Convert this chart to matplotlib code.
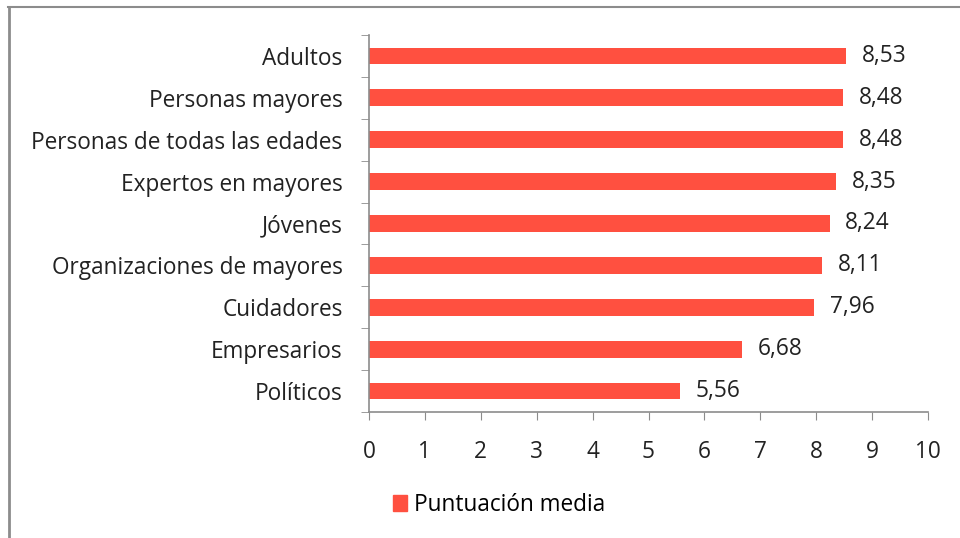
import matplotlib.pyplot as plt
from matplotlib.lines import Line2D
from matplotlib.patches import Patch

categorias = ['Adultos', 'Personas mayores', 'Personas de todas las edades',
              'Expertos en mayores', 'Jóvenes', 'Organizaciones de mayores',
              'Cuidadores', 'Empresarios', 'Políticos']
puntuacion = [8.53, 8.48, 8.48, 8.35, 8.24, 8.11, 7.96, 6.68, 5.56]
serie = 'Puntuación media'

color = '#FF5040'
gris = '#8c8c8c'
fs = 16.3
plt.rcParams['font.family'] = ['Open Sans', 'DejaVu Sans']

fig = plt.figure(figsize=(9.6, 5.38), dpi=100)
ax = fig.add_axes([369/960, 1 - 412/538, (928 - 369)/960, (412 - 35)/538])

y = list(range(len(categorias)))[::-1]
bars = ax.barh(y, puntuacion, height=0.4, color=color)
for b, v in zip(bars, puntuacion):
    ax.text(v + 0.28, b.get_y() + b.get_height()/2, f'{v:.2f}'.replace('.', ','),
            va='center', ha='left', fontsize=fs, color='#222222')

ax.set_xlim(0, 10)
ax.set_ylim(-0.5, len(categorias) - 0.5)
ax.set_xticks(range(11))
ax.set_yticks(y)
ax.set_yticklabels(categorias)
ax.set_yticks([i - 0.5 for i in range(len(categorias) + 1)], minor=True)
ax.tick_params(axis='y', which='major', length=0, pad=19, labelsize=fs, labelcolor='#222222')
ax.tick_params(axis='y', which='minor', length=6, color=gris, direction='out')
ax.tick_params(axis='x', length=6, color=gris, pad=14, labelsize=fs, labelcolor='#222222')
for s in ['top', 'right']:
    ax.spines[s].set_visible(False)
for s in ['left', 'bottom']:
    ax.spines[s].set_color(gris)
    ax.spines[s].set_linewidth(1.2)

ax.legend([Patch(color=color)], [serie], loc='center', bbox_to_anchor=(499/960, 1 - 505/538),
          bbox_transform=fig.transFigure, frameon=False, fontsize=fs,
          handlelength=0.65, handleheight=0.65, handletextpad=0.3)

# marco de la figura
fig.add_artist(Line2D([8.5/960, 8.5/960], [0, 1 - 7/538], color=gris, lw=2, transform=fig.transFigure))
fig.add_artist(Line2D([8/960, 1], [1 - 7/538, 1 - 7/538], color=gris, lw=1.5, transform=fig.transFigure))

fig.savefig('out.png', dpi=100)
